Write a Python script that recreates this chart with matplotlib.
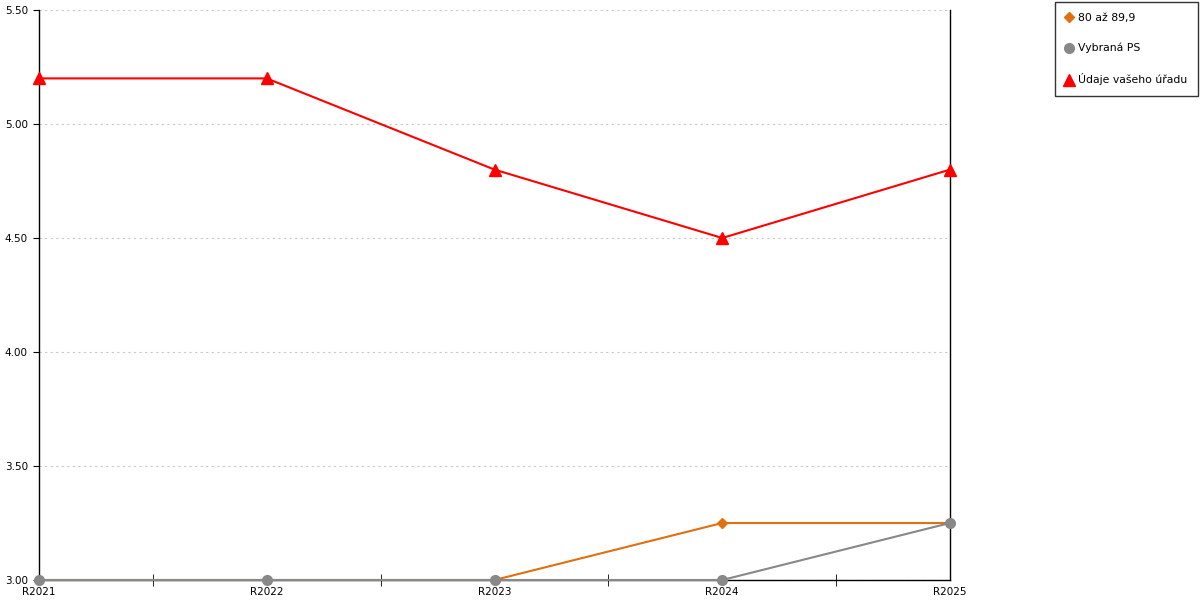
import matplotlib
matplotlib.use("Agg")
import matplotlib.pyplot as plt
from matplotlib.ticker import FixedLocator

plt.rcParams['font.family'] = ['DejaVu Sans']

years = ['R2021', 'R2022', 'R2023', 'R2024', 'R2025']
pasmo = [3.0, 3.0, 3.0, 3.25, 3.25]
vybrana_ps = [3.0, 3.0, 3.0, 3.0, 3.25]
vas_urad = [5.2, 5.2, 4.8, 4.5, 4.8]
y_ticks = [3.0, 3.5, 4.0, 4.5, 5.0, 5.5]

fig = plt.figure(figsize=(12, 6), dpi=100)
ax = fig.add_axes([39 / 1200, 20 / 600, 911 / 1200, 570 / 600])

x = list(range(len(years)))
ax.plot(x, pasmo, color='#e07010', lw=1.5, marker='D', ms=5, label='80 až 89,9', clip_on=False, zorder=3)
ax.plot(x, vybrana_ps, color='#888888', lw=1.5, marker='o', ms=7, label='Vybraná PS', clip_on=False, zorder=4)
ax.plot(x, vas_urad, color='#ff0000', lw=1.5, marker='^', ms=8, label='Údaje vašeho úřadu', clip_on=False, zorder=5)

ax.set_xlim(0, len(years) - 1)
ax.set_ylim(3.0, 5.5)
ax.set_yticks(y_ticks)
ax.set_yticklabels([f'{v:.2f}' for v in y_ticks])
ax.set_xticks(x)
ax.set_xticklabels(years)
ax.xaxis.set_minor_locator(FixedLocator([i + 0.5 for i in range(len(years) - 1)]))

ax.grid(axis='y', color='#c8c8c8', linestyle=(0, (2, 3)), lw=0.8)
ax.set_axisbelow(True)
ax.spines['top'].set_visible(False)
for s in ['left', 'right', 'bottom']:
    ax.spines[s].set_color('black')
    ax.spines[s].set_linewidth(1)

ax.tick_params(axis='y', which='major', length=4, labelsize=7.5, pad=4, direction='out')
ax.tick_params(axis='x', which='major', length=0, labelsize=7.5, pad=5)
ax.tick_params(axis='x', which='minor', length=8, direction='inout')

leg = ax.legend(loc='upper left', bbox_to_anchor=(1055 / 1200, 1 - 2 / 600),
                bbox_transform=fig.transFigure, fontsize=7.8, frameon=True,
                fancybox=False, edgecolor='black', handlelength=0.6,
                handletextpad=0.5, labelspacing=1.85, borderpad=1.0,
                borderaxespad=0)
for h in leg.get_lines():
    h.set_linestyle('none')
leg.get_frame().set_linewidth(1)

fig.savefig('out.png', dpi=100)
